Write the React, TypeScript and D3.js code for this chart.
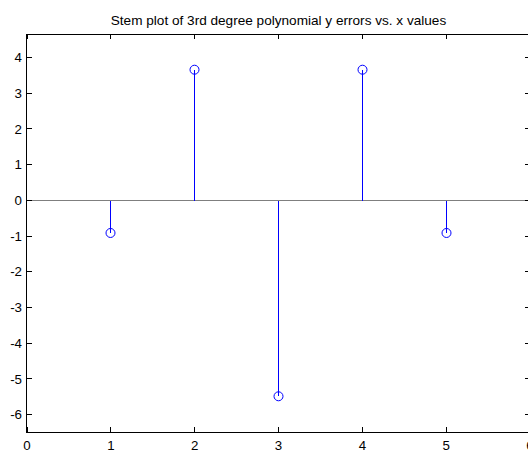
import React from "react";
import * as d3 from "d3";

// Sample x positions and polynomial fit errors
const xValues = [1, 2, 3, 4, 5];
const yErrors = [-0.914, 3.657, -5.486, 3.657, -0.914];
const xTickValues = [0, 1, 2, 3, 4, 5, 6];
const yTickValues = [-6, -5, -4, -3, -2, -1, 0, 1, 2, 3, 4];
const titleText = "Stem plot of 3rd degree polynomial y errors vs. x values";

const W = 528;
const H = 450;
const left = 27;
const right = 530;
const top = 34;
const bottom = 432;
const tickLen = 5;
const font = "Liberation Sans, Arial, sans-serif";
const fontSize = 13.3;

// snap a coordinate to the centre of its pixel column/row
const snap = (v: number) => Math.floor(v) + 0.5;

export default function App() {
  const x = d3.scaleLinear().domain([0, 6]).range([left, right]);
  const yMin = d3.min(yErrors)! - 1;
  const yMax = d3.max(yErrors)! + 1;
  const y = d3.scaleLinear().domain([yMin, yMax]).range([bottom, top]);
  const y0 = snap(y(0));

  return (
    <svg
      width={W}
      height={H}
      style={{ position: "absolute", left: 0, top: 0, background: "#fff" }}
    >
      <rect x={0} y={0} width={W} height={H} fill="#fff" />
      {/* zero baseline */}
      <line
        x1={left}
        x2={right}
        y1={y0}
        y2={y0}
        stroke="#7f7f7f"
        strokeWidth={1}
        shapeRendering="crispEdges"
      />
      {/* stems and markers */}
      {xValues.map((xv, i) => {
        const px = snap(x(xv));
        const py = y(yErrors[i]);
        return (
          <g key={i}>
            <path
              d={`M${px},${y0}V${py}`}
              fill="none"
              stroke="#0000ff"
              strokeWidth={1}
              shapeRendering="crispEdges"
            />
            <circle
              cx={px}
              cy={py}
              r={4.5}
              fill="none"
              stroke="#0000ff"
              strokeWidth={1}
            />
          </g>
        );
      })}
      {/* axes box */}
      <rect
        x={left - 0.5}
        y={top + 0.5}
        width={right - left}
        height={bottom - top}
        fill="none"
        stroke="#000"
        strokeWidth={1.2}
        shapeRendering="crispEdges"
      />
      {/* x ticks */}
      {xTickValues.map((t) => {
        const px = snap(x(t));
        return (
          <g key={"xt" + t}>
            <line x1={px} x2={px} y1={bottom} y2={bottom - tickLen} stroke="#000" shapeRendering="crispEdges" />
            <line x1={px} x2={px} y1={top} y2={top + tickLen} stroke="#000" shapeRendering="crispEdges" />
            <text
              x={x(t)}
              y={450}
              textAnchor="middle"
              fontFamily={font}
              fontSize={fontSize}
              fill="#000"
            >
              {t}
            </text>
          </g>
        );
      })}
      {/* y ticks */}
      {yTickValues.map((t) => {
        const py = snap(y(t));
        return (
          <g key={"yt" + t}>
            <line x1={left} x2={left + tickLen} y1={py} y2={py} stroke="#000" shapeRendering="crispEdges" />
            <line x1={right} x2={right - tickLen} y1={py} y2={py} stroke="#000" shapeRendering="crispEdges" />
            <text
              x={22}
              y={y(t) + 4.7}
              textAnchor="end"
              fontFamily={font}
              fontSize={fontSize}
              fill="#000"
            >
              {t}
            </text>
          </g>
        );
      })}
      <text
        x={(left + right) / 2}
        y={24.5}
        textAnchor="middle"
        fontFamily={font}
        fontSize={13.6}
        fill="#000"
      >
        {titleText}
      </text>
    </svg>
  );
}
